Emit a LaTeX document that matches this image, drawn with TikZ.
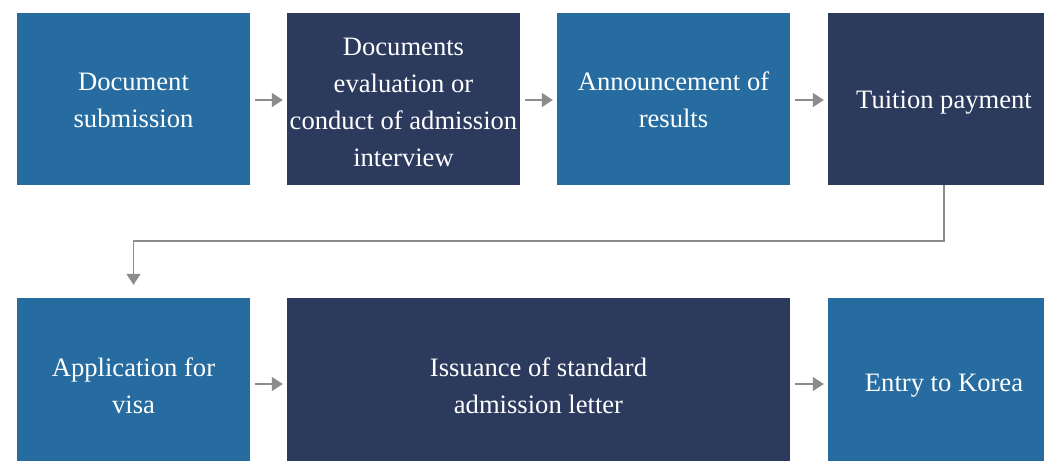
\documentclass[tikz,border=0pt]{standalone}
\usepackage{fontspec}
\setmainfont{Liberation Serif}
\usetikzlibrary{arrows.meta}
\definecolor{lblue}{HTML}{276CA0}
\definecolor{dnavy}{HTML}{2C3A5E}
\definecolor{agray}{HTML}{8C8C8C}
\tikzset{
  box/.style={draw=none, inner sep=0pt},
  lbox/.style={box, fill=lblue},
  dbox/.style={box, fill=dnavy},
  txt/.style={inner sep=0pt, text=white, align=center,
    font=\fontsize{26.6}{37}\selectfont},
  conn/.style={draw=agray, line width=1.6pt, -{Triangle[length=11pt,width=14pt]}},
}
\begin{document}
\begin{tikzpicture}[x=1pt,y=-1pt]
\useasboundingbox (0,0) rectangle (1044,461);
\clip (0,0) rectangle (1044,461);
\node[lbox, minimum width=233, minimum height=172] (b1) at (133.5,99) {};
\node[dbox, minimum width=233, minimum height=172] (b2) at (403.5,99) {};
\node[lbox, minimum width=233, minimum height=172] (b3) at (673.5,99) {};
\node[dbox, minimum width=232, minimum height=172] (b4) at (944,99) {};
\node[lbox, minimum width=233, minimum height=163] (b5) at (133.5,379.5) {};
\node[dbox, minimum width=503, minimum height=163] (b6) at (538.5,379.5) {};
\node[lbox, minimum width=232, minimum height=163] (b7) at (944,379.5) {};
\node[txt] (t1) at ([yshift=-1]b1.center) {Document\\submission};
\node[txt] (t2) at ([yshift=-3]b2.center) {Documents\\evaluation or\\conduct of admission\\interview};
\node[txt] (t3) at ([yshift=-1]b3.center) {Announcement of\\results};
\node[txt] (t4) at ([yshift=-4]b4.center) {Tuition payment};
\node[txt] (t5) at ([yshift=-6]b5.center) {Application for\\visa};
\node[txt] (t6) at ([yshift=-6]b6.center) {Issuance of standard\\admission letter};
\node[txt] (t7) at ([yshift=-6]b7.center) {Entry to Korea};
\draw[conn, shorten <=5pt, shorten >=4pt] ([yshift=-1]b1.east) -- ([yshift=-1]b2.west);
\draw[conn, shorten <=5pt, shorten >=4pt] ([yshift=-1]b2.east) -- ([yshift=-1]b3.west);
\draw[conn, shorten <=5pt, shorten >=4pt] ([yshift=-1]b3.east) -- ([yshift=-1]b4.west);
\coordinate (c1) at (944,241);
\coordinate (c2) at (133.5,241);
\draw[conn, shorten >=13pt] (b4.south) -- (c1) -- (c2) -- (b5.north);
\draw[conn, shorten <=5pt, shorten >=4pt] ([yshift=-4.5]b5.east) -- ([yshift=-4.5]b6.west);
\draw[conn, shorten <=5pt, shorten >=4pt] ([yshift=-4.5]b6.east) -- ([yshift=-4.5]b7.west);
\end{tikzpicture}
\end{document}
